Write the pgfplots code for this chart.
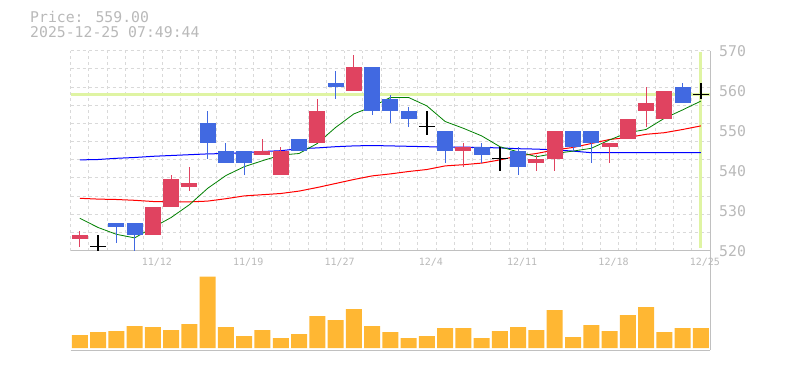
\documentclass[border=0pt]{standalone}
\usepackage{pgfplots}
\usepackage{pgfplotstable}
\usepackage{fontspec}
\pgfplotsset{compat=1.18}
\newfontfamily\chartfont{DejaVu Sans Mono}
\definecolor{upc}{RGB}{224,67,96}
\definecolor{dnc}{RGB}{65,105,225}
\definecolor{volc}{RGB}{255,183,51}
\definecolor{gridc}{RGB}{217,217,217}
\definecolor{axc}{RGB}{192,192,192}
\definecolor{txtc}{RGB}{185,185,185}
\definecolor{pricec}{RGB}{223,244,163}
\definecolor{maf}{RGB}{0,128,0}
\definecolor{mam}{RGB}{255,0,0}
\definecolor{mal}{RGB}{0,0,255}

\pgfplotstableread{
x o h l c
0 523 525 521 524
4 524 531 524 531
5 531 539 531 538
6 536 541 535 537
10 544 548 544 545
11 539 546 539 545
13 547 558 547 555
15 560 569 560 566
21 545 547 541 546
25 542 544 540 543
26 543 550 540 550
29 546 547 542 547
30 548 553 548 553
31 555 561 551 557
32 553 560 553 560
}\upc

\pgfplotstableread{
x o h l c
2 527 527 522 526
3 527 527 520 524
7 552 555 543 547
8 545 547 542 542
9 545 545 539 542
12 548 548 545 545
14 562 565 558 561
16 566 566 554 555
17 558 559 552 555
18 555 556 551 553
20 550 550 542 545
22 546 547 542 544
24 545 546 539 541
27 550 550 545 546
28 550 550 542 547
33 561 562 557 557
}\dnc

\pgfplotstableread{
x o h l c
1 521 524 520 521
19 551 555 549 551
23 543 546 540 543
34 559 562 558 559
}\doji

\pgfplotstableread{
x fast mid long
0 528.1 533.1 542.7
1 525.8 532.9 542.8
2 524.1 532.8 543.1
3 523.2 532.6 543.3
4 525.8 532.3 543.6
5 528.3 532.2 543.8
6 531.5 532.2 544.0
7 535.6 532.4 544.2
8 538.8 533.0 544.3
9 541.0 533.7 544.5
10 542.5 534.0 544.8
11 543.9 534.3 545.0
12 544.3 534.9 545.5
13 546.8 535.8 545.7
14 550.8 536.8 546.0
15 554.2 537.8 546.2
16 556.0 538.7 546.3
17 558.3 539.2 546.2
18 558.3 539.8 546.1
19 556.2 540.3 546.0
20 552.3 541.2 545.9
21 550.6 541.5 545.9
22 548.7 541.9 545.8
23 546.0 542.7 545.7
24 544.7 543.7 545.5
25 543.5 544.3 545.4
26 544.3 545.2 545.2
27 544.9 545.8 544.9
28 545.6 546.8 544.5
29 547.7 547.8 544.5
30 549.5 548.3 544.5
31 550.3 549.1 544.5
32 553.1 549.5 544.5
33 555.2 550.3 544.5
34 557.4 551.2 544.5
}\ma

\pgfplotstableread{
x v
0 39
1 48
2 51
3 66
4 63
5 54
6 72
7 214
8 63
9 36
10 54
11 30
12 42
13 96
14 84
15 117
16 66
17 48
18 30
19 36
20 60
21 60
22 30
23 51
24 63
25 54
26 114
27 33
28 69
29 51
30 99
31 123
32 48
33 60
34 60
}\vol

\pgfplotsset{
  common/.style={
    scale only axis, anchor=south west, width=639.3pt,
    xmin=-0.5, xmax=34.5,
    axis x line=bottom, axis y line=right,
    axis line style={-, draw=axc, line width=1pt},
    x axis line style={-}, y axis line style={-},
    major tick length=0pt, minor tick length=0pt,
    minor xtick={-0.5,0.5,...,34.5},
    xminorgrids,
    minor grid style={gridc, dash pattern=on 3pt off 3pt, line width=1pt},
  }
}

\begin{document}
\begin{tikzpicture}
\useasboundingbox (0,0) rectangle (785pt,370pt);

\node[anchor=base west, inner sep=0pt, text=txtc, font=\chartfont\fontsize{14.8}{14.8}\selectfont] at (30pt,347pt) {Price: 559.00};
\node[anchor=base west, inner sep=0pt, text=txtc, font=\chartfont\fontsize{14.8}{14.8}\selectfont] at (30pt,332pt) {2025-12-25 07:49:44};

% volume panel
\begin{axis}[common,
  at={(70.7pt,20pt)}, height=99pt,
  ymin=-6, ymax=291,
  xtick=\empty, ytick=\empty,
]
\addplot[ybar, bar width=0.876, fill=volc, draw=none] table[x=x,y=v]{\vol};
\end{axis}

% price panel
\begin{axis}[common,
  at={(70.7pt,119.3pt)}, height=200pt,
  ymin=520, ymax=570,
  xtick={4,9,14,19,24,29,34},
  xticklabels={11/12,11/19,11/27,12/4,12/11,12/18,12/25},
  ytick={520,530,540,550,560,570},
  yticklabels={520,530,540,550,560,570},
  minor ytick={524.545,529.091,533.636,538.182,542.727,547.273,551.818,556.364,560.909,565.455,570},
  yminorgrids,
  xticklabel style={font=\chartfont\fontsize{10}{10}\selectfont, text=txtc, anchor=north, inner sep=0pt, yshift=-7.5pt, xshift=4pt},
  yticklabel style={font=\chartfont\fontsize{14.8}{14.8}\selectfont, text=txtc, anchor=west, inner sep=0pt, xshift=9pt},
  clip=true,
]
% current price lines
\addplot[pricec, line width=3pt] coordinates {(-0.5,559) (34.5,559)};
\addplot[pricec, line width=3pt] coordinates {(34,569.7) (34,520.6)};
% moving averages
\addplot[mal, line width=1pt] table[x=x,y=long]{\ma};
\addplot[mam, line width=1pt] table[x=x,y=mid]{\ma};
\addplot[maf, line width=0.8pt] table[x=x,y=fast]{\ma};
% wicks
\addplot[draw=none, mark=none, error bars/.cd, y dir=plus, y explicit, error mark=none, error bar style={upc, line width=1pt}]
  table[x=x, y=l, y error expr=\thisrow{h}-\thisrow{l}]{\upc};
\addplot[draw=none, mark=none, error bars/.cd, y dir=plus, y explicit, error mark=none, error bar style={dnc, line width=1pt}]
  table[x=x, y=l, y error expr=\thisrow{h}-\thisrow{l}]{\dnc};
\addplot[draw=none, mark=none, error bars/.cd, y dir=plus, y explicit, error mark=none, error bar style={black, line width=1.5pt}]
  table[x=x, y=l, y error expr=\thisrow{h}-\thisrow{l}]{\doji};
% bodies
\addplot[draw=none, mark=none, error bars/.cd, y dir=plus, y explicit, error mark=none, error bar style={upc, line width=16pt}]
  table[x=x, y=o, y error expr=\thisrow{c}-\thisrow{o}]{\upc};
\addplot[draw=none, mark=none, error bars/.cd, y dir=plus, y explicit, error mark=none, error bar style={dnc, line width=16pt}]
  table[x=x, y=c, y error expr=\thisrow{o}-\thisrow{c}]{\dnc};
\addplot[only marks, mark=-, mark size=8pt, mark options={black, line width=1.5pt}]
  table[x=x, y=c]{\doji};
\end{axis}
\end{tikzpicture}
\end{document}
